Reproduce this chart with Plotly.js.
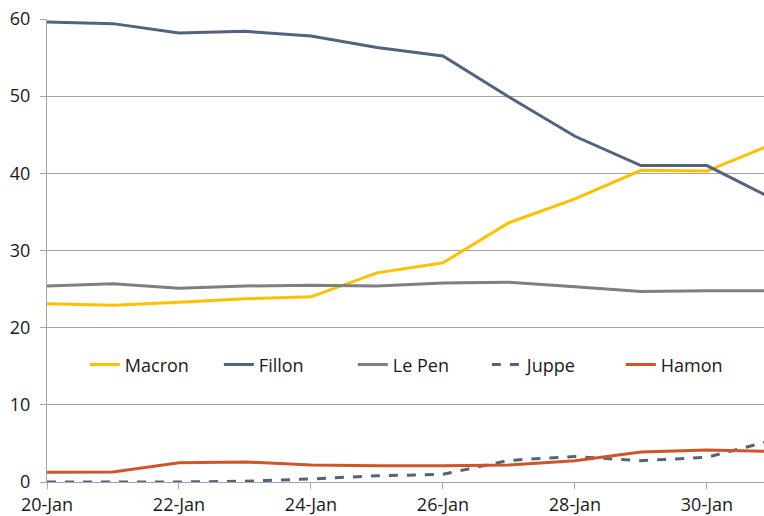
<!DOCTYPE html>
<html>
<head>
<meta charset="utf-8">
<script src="https://cdn.plot.ly/plotly-3.0.1.min.js"></script>
<style>html,body{margin:0;padding:0;background:#fff;overflow:hidden}</style>
</head>
<body>
<div id="chart" style="width:764px;height:516px"></div>
<script>
const dates = ['2017-01-20','2017-01-21','2017-01-22','2017-01-23','2017-01-24','2017-01-25','2017-01-26','2017-01-27','2017-01-28','2017-01-29','2017-01-30','2017-01-31'];
const macron = [23.1, 22.9, 23.3, 23.75, 24.0, 27.1, 28.4, 33.6, 36.7, 40.4, 40.3, 43.8];
const fillon = [59.6, 59.4, 58.2, 58.4, 57.8, 56.3, 55.2, 49.9, 44.8, 41.0, 41.0, 36.7];
const lepen  = [25.4, 25.7, 25.1, 25.4, 25.5, 25.4, 25.8, 25.9, 25.3, 24.7, 24.8, 24.8];
const juppe  = [0.0, 0.0, 0.0, 0.1, 0.4, 0.8, 1.0, 2.8, 3.3, 2.76, 3.2, 5.4];
const hamon  = [1.25, 1.3, 2.5, 2.6, 2.2, 2.1, 2.1, 2.2, 2.76, 3.9, 4.15, 3.97];

const mk = (name, y, color, dash) => ({
  x: dates, y: y, name: name, type: 'scatter', mode: 'lines',
  line: {color: color, width: 3, dash: dash || 'solid'}
});

const data = [
  mk('Macron', macron, '#FFC000'),
  mk('Fillon', fillon, '#51647F'),
  mk('Le Pen', lepen, '#7F7F7F'),
  mk('Juppe', juppe, '#51647F', 'dash'),
  mk('Hamon', hamon, '#CF5529')
];

const layout = {
  width: 764, height: 516,
  margin: {l: 47, r: 0, t: 19, b: 34, pad: 0},
  paper_bgcolor: '#fff', plot_bgcolor: '#fff',
  font: {family: '"Open Sans", "Noto Sans", sans-serif', size: 18, color: '#1a1a1a'},
  showlegend: true,
  legend: {orientation: 'h', x: 0.52, y: 0.253, xanchor: 'center', yanchor: 'middle',
           bgcolor: 'rgba(0,0,0,0)', font: {size: 18}, traceorder: 'normal', entrywidth: 89},
  xaxis: {
    type: 'date', range: ['2017-01-20', '2017-01-30 20:45'],
    dtick: 2*86400000, tick0: '2017-01-20', tickformat: '%d-%b',
    showgrid: false, showline: true, linecolor: '#a6a6a6', linewidth: 1,
    ticks: 'outside', ticklen: 6, tickcolor: '#a6a6a6', zeroline: false
  },
  yaxis: {
    range: [0, 60], dtick: 10, showgrid: true, gridcolor: '#a6a6a6', gridwidth: 1,
    showline: true, linecolor: '#a6a6a6', linewidth: 1,
    ticks: 'outside', ticklen: 6, tickcolor: '#a6a6a6', zeroline: false,
    ticklabelstandoff: 6
  }
};
Plotly.newPlot('chart', data, layout, {displayModeBar: false, staticPlot: true});
</script>
</body>
</html>
